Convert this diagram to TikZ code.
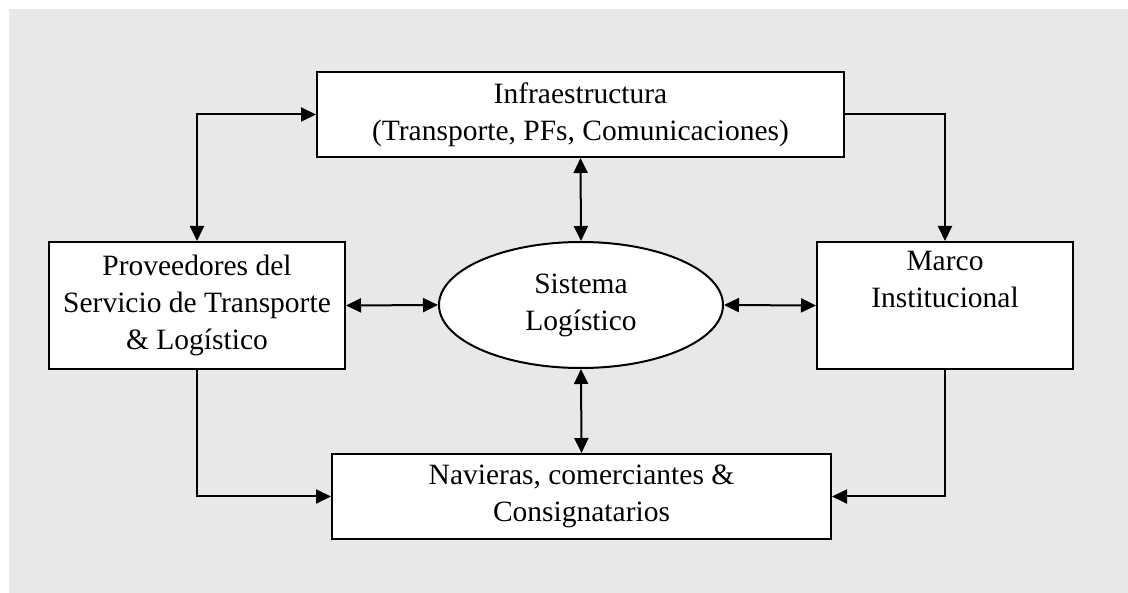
\documentclass[tikz,border=0pt]{standalone}
\usepackage{fontspec}
\setmainfont{Liberation Serif}
\usetikzlibrary{arrows.meta,shapes.geometric}
\definecolor{panel}{RGB}{232,232,232}
\begin{document}
\begin{tikzpicture}[x=1pt,y=-1pt,
  every node/.style={font=\fontsize{29.5}{37}\selectfont},
  blk/.style={draw,line width=2pt,fill=white,inner sep=0pt,align=center},
  conn/.style={line width=2pt,-{Triangle[length=15pt,width=14pt]}},
  conn2/.style={line width=2pt,{Triangle[length=15pt,width=14pt]}-{Triangle[length=15pt,width=14pt]}}]
  \useasboundingbox (0,0) rectangle (1128,593);
  \fill[panel] (9,9) rectangle (1128,593);

  % boxes
  \node[blk,minimum width=527pt,minimum height=85pt] (infra) at (580.5,114.5)
    {\raisebox{3pt}{\parbox{500pt}{\centering Infraestructura\\(Transporte, PFs, Comunicaciones)}}};
  \node[blk,minimum width=296pt,minimum height=127pt] (prov) at (197,305.5)
    {Proveedores del\\Servicio de Transporte\\\& Logístico};
  \node[blk,minimum width=256pt,minimum height=127pt] (marco) at (945,305.5) {};
  \node[anchor=north,align=center,inner sep=0pt] (marcotxt) at ([yshift=-10pt]marco.north)
    {Marco\\Institucional};
  \node[blk,minimum width=499pt,minimum height=85pt] (nav) at (581.5,496.5)
    {\raisebox{3pt}{\parbox{480pt}{\centering Navieras, comerciantes \&\\Consignatarios}}};
  \node[blk,ellipse,minimum width=284pt,minimum height=126pt] (sis) at (581,305)
    {\raisebox{5pt}{\parbox{200pt}{\centering Sistema\\Logístico}}};

  % connectors
  \draw[conn2] (prov.north) |- (infra.west);
  \draw[conn] (infra.east) -| (marco.north);
  \draw[conn] (prov.south) |- (nav.west);
  \draw[conn] (marco.south) |- (nav.east);
  \draw[conn2] (infra.south) -- (sis.north);
  \draw[conn2] (sis.south) -- (nav.north);
  \draw[conn2] (prov.east) -- (sis.west);
  \draw[conn2] (sis.east) -- (marco.west);
\end{tikzpicture}
\end{document}
